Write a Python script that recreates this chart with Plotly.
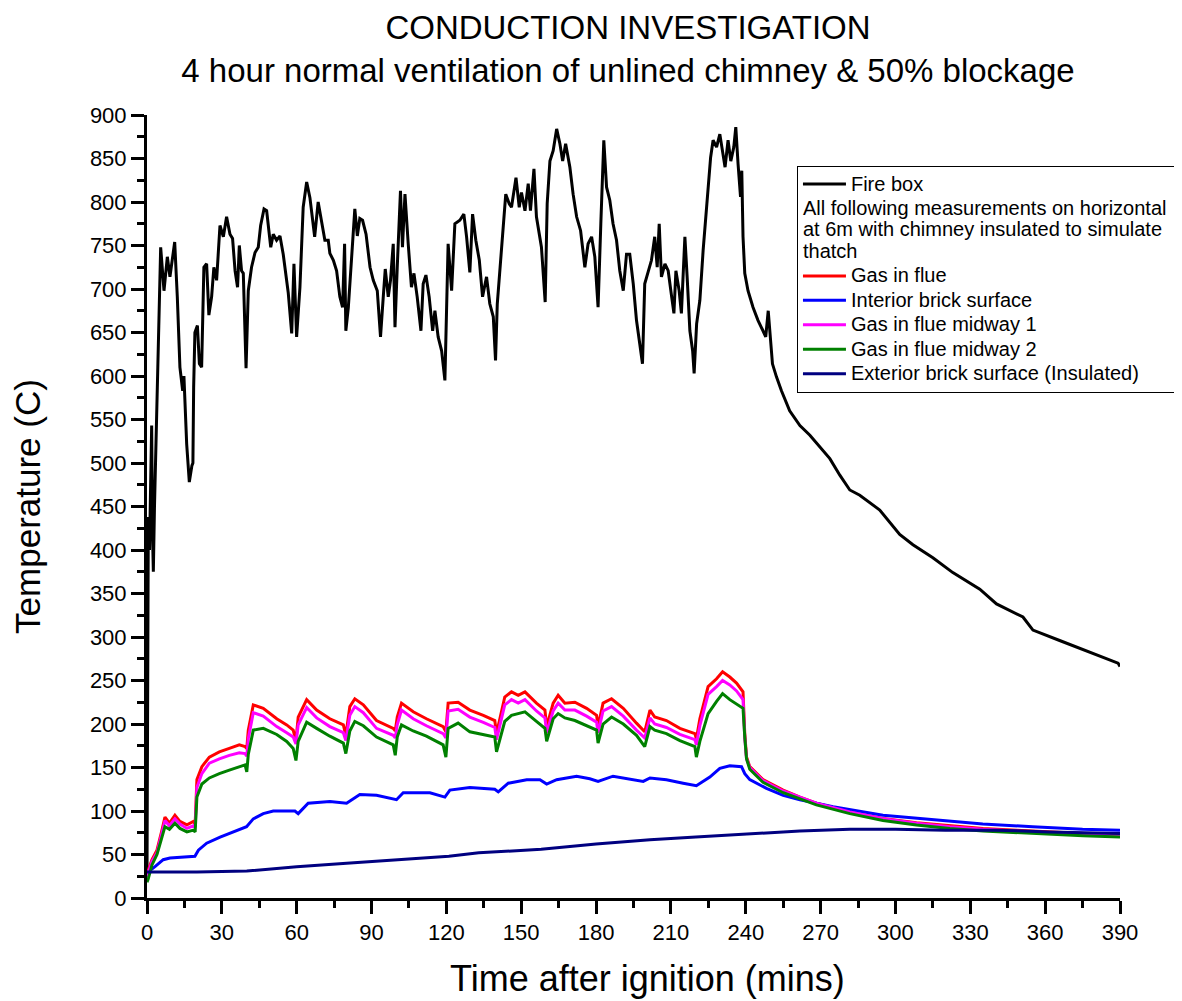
import plotly.graph_objects as go

# ---------------- data ----------------
FIRE_T = [0, 0.2, 0.53, 1.0, 1.87, 2.2, 2.54, 3.0, 3.6, 4.54,
          5.48, 6.81, 8.15, 9.2, 11.1, 12.15, 13.2, 14.3, 14.8, 15.9,
          16.96, 18.0, 18.4, 18.7, 19.2, 20.2, 21.0, 21.9, 22.8, 23.9,
          24.8, 25.9, 26.8, 27.9, 28.45, 29.25, 30.6, 31.9, 33.26, 34.3,
          35.3, 36.3, 37.0, 37.9, 38.6, 39.7, 40.6, 41.9, 43.3, 44.6,
          45.55, 46.9, 47.95, 48.6, 49.6, 50.6, 51.95, 53.3, 54.6, 56.6,
          58.0, 58.9, 59.97, 61.3, 62.6, 64.0, 65.3, 66.4, 67.2, 68.6,
          70.0, 71.3, 72.65, 73.3, 74.7, 76.0, 77.3, 78.4, 79.2, 79.7,
          80.7, 82.0, 83.3, 84.3, 85.3, 86.4, 87.8, 89.4, 90.7, 92.3,
          93.6, 94.7, 95.5, 96.7, 97.6, 98.7, 99.4, 100.3, 101.6, 102.4,
          103.4, 104.7, 106.0, 107.0, 108.3, 109.8, 110.7, 111.8, 113.1, 114.5,
          115.4, 116.7, 118.1, 119.4, 120.7, 122.1, 123.4, 125.4, 127.0, 128.1,
          129.4, 130.5, 131.8, 133.2, 134.5, 136.1, 137.4, 138.8, 139.7, 140.4,
          141.4, 142.5, 143.8, 145.2, 146.1, 147.9, 149.2, 150.1, 151.5, 152.8,
          153.7, 155.1, 156.1, 158.1, 159.6, 160.4, 161.5, 162.8, 164.2, 165.5,
          166.6, 167.8, 169.5, 170.8, 172.2, 173.8, 175.5, 176.8, 178.2, 179.5,
          180.8, 181.9, 183.1, 184.2, 185.5, 186.8, 188.2, 189.5, 190.9, 192.2,
          193.5, 194.9, 196.2, 197.5, 198.6, 199.5, 200.9, 202.2, 203.5, 204.5,
          205.3, 206.2, 207.6, 208.9, 210.3, 211.2, 212.0, 213.3, 214.2, 215.6,
          216.5, 217.6, 218.7, 219.3, 220.3, 221.6, 222.9, 224.0, 224.9, 225.9,
          226.9, 228.3, 229.6, 230.7, 231.7, 232.9, 234.0, 235.2, 236.0, 236.9,
          237.9, 238.4, 238.9, 239.6, 240.9, 242.9, 244.9, 246.9, 248.0, 249.0,
          249.6, 250.7, 252.3, 254.3, 257.6, 261.7, 265.7, 269.7, 273.7, 277.7,
          281.7, 285.7, 289.7, 293.7, 301.7, 307.0, 315.0, 323.0, 333.8, 340.5,
          351.1, 355.1, 365.8, 373.8, 380.5, 389.2, 390.0]
FIRE_BOX = [25, 370, 438, 400, 543, 420, 375, 450, 515, 637,
            748, 698, 737, 714, 754, 691, 610, 583, 600, 522,
            478, 497, 500, 587, 650, 658, 614, 610, 725, 729,
            670, 691, 725, 710, 741, 773, 760, 783, 763, 758,
            721, 702, 750, 721, 718, 609, 698, 725, 742, 748,
            773, 792, 790, 771, 748, 763, 756, 761, 740, 696,
            649, 729, 645, 702, 794, 823, 805, 779, 760, 800,
            775, 756, 756, 741, 733, 721, 691, 679, 752, 652,
            679, 737, 792, 761, 781, 779, 763, 725, 710, 698,
            645, 691, 723, 691, 710, 752, 656, 725, 813, 748,
            809, 752, 702, 718, 691, 652, 706, 716, 691, 652,
            675, 645, 629, 595, 752, 698, 775, 779, 786, 760,
            719, 786, 756, 733, 691, 714, 683, 668, 618, 683,
            721, 752, 809, 798, 794, 828, 794, 811, 790, 821,
            790, 838, 783, 748, 685, 798, 847, 859, 884, 867,
            847, 867, 840, 809, 783, 767, 725, 752, 760, 737,
            679, 775, 871, 817, 802, 775, 756, 721, 698, 740,
            740, 706, 664, 637, 614, 706, 721, 733, 760, 725,
            775, 714, 729, 721, 691, 672, 721, 698, 672, 760,
            714, 652, 629, 603, 660, 687, 744, 786, 821, 851,
            871, 863, 878, 859, 840, 871, 847, 863, 886, 844,
            806, 836, 760, 718, 698, 679, 664, 652, 645, 675,
            652, 614, 599, 583, 560, 543, 532, 518, 505, 486,
            469, 463, 454, 446, 418, 406, 391, 374, 355, 338,
            323, 308, 296, 287, 279, 270, 266]

FLUE_T = [0, 0.5, 2, 4, 6, 7.2, 9, 11.2, 13.2, 16,
          18.6, 19.3, 20, 22, 25, 29, 33, 37, 39.3, 40,
          40.6, 42.6, 46.6, 52, 56, 58.6, 59.7, 60.6, 64, 68,
          73.3, 78.7, 79.7, 81.3, 83.3, 86.7, 92, 98.7, 99.5, 100.3,
          102, 106.7, 112, 118.7, 119.8, 120.7, 124.7, 129.4, 134.8, 139.4,
          140.1, 143.4, 146.1, 148.8, 151.5, 156.1, 159.5, 160.2, 162.8, 164.8,
          167.5, 171.5, 176.2, 180.2, 180.8, 182.8, 186.2, 190.9, 196.2, 199.5,
          201.6, 203.5, 208.2, 213.6, 219.6, 220.2, 221.6, 224.9, 228.3, 230.7,
          233.6, 236.3, 238.9, 239.6, 240.3, 241.6, 246.9, 255, 261.7, 268.3,
          281.7, 295, 308.4, 321.8, 335.1, 348.5, 361.8, 375.2, 390]
GAS_IN_FLUE = [25, 32, 44, 55, 78, 93, 86, 95, 88, 84,
               88, 85, 136, 151, 162, 168, 172, 176, 174, 172,
               193, 222, 218, 206, 199, 193, 181, 208, 228, 216,
               206, 199, 187, 220, 229, 222, 204, 195, 192, 208,
               224, 214, 206, 197, 191, 224, 225, 216, 210, 204,
               189, 231, 237, 233, 237, 224, 216, 197, 224, 233,
               224, 225, 218, 210, 197, 224, 229, 218, 201, 191,
               216, 208, 204, 195, 189, 183, 206, 243, 252, 260,
               254, 247, 237, 189, 162, 151, 136, 124, 116, 109,
               99, 91.5, 86.5, 83, 80, 78, 76, 74, 72]
GAS_MIDWAY_1 = [25, 30, 42, 52, 74, 89, 83, 91, 85, 80,
                83, 81, 127, 143, 155, 160, 164, 167, 166, 163,
                183, 213, 209, 197, 190, 185, 177, 199, 219, 207,
                197, 190, 181, 210, 220, 213, 195, 187, 184, 199,
                216, 206, 198, 189, 184, 215, 217, 208, 202, 196,
                182, 222, 228, 224, 228, 215, 207, 190, 215, 224,
                216, 216, 209, 202, 190, 215, 220, 209, 193, 184,
                207, 200, 196, 188, 182, 176, 198, 234, 243, 250,
                245, 238, 228, 184, 160, 150, 135, 123, 116, 109,
                99, 91, 86, 82, 79, 77, 75, 73, 71]
GAS_MIDWAY_2 = [18, 22, 38, 50, 70, 82, 79, 86, 80, 76,
                78, 76, 116, 131, 138, 143, 147, 151, 153, 145,
                165, 193, 195, 188, 180, 172, 158, 180, 202, 195,
                186, 178, 166, 192, 203, 198, 185, 176, 164, 185,
                199, 192, 186, 176, 162, 195, 201, 191, 188, 185,
                168, 203, 210, 212, 214, 203, 195, 180, 206, 212,
                207, 204, 198, 193, 178, 200, 208, 200, 187, 174,
                197, 193, 189, 181, 174, 162, 180, 212, 226, 235,
                228, 223, 218, 185, 160, 148, 133, 121, 114, 107,
                97, 89, 84, 80, 77, 75, 73, 71.5, 70]

INT_T = [0, 0.5, 3.2, 6.5, 9.2, 14.5, 19.2, 20.6, 23.9, 29.3,
         34.6, 39.9, 42.6, 46.6, 50.6, 59.3, 60.6, 64.6, 73.3, 80,
         85.3, 92, 100, 102.7, 113.4, 119.4, 121.4, 129.4, 139.4, 140.8,
         144.8, 152.2, 157.5, 160.2, 164.2, 172.2, 177.5, 180.8, 186.8, 196.2,
         198.9, 201.6, 208.2, 214.9, 220.2, 225.6, 229.6, 233.6, 238.3, 239.6,
         241.6, 248.3, 255, 261.7, 275, 295, 315, 335, 355, 375,
         390]
INTERIOR_BRICK = [25, 30, 36, 44, 46, 47, 48, 55, 63, 70,
                  76, 82, 91, 97, 100, 100, 97, 109, 111, 109,
                  119, 118, 113, 121, 121, 116, 124, 127, 125, 122,
                  132, 136, 136, 131, 136, 140, 137, 134, 140, 136,
                  134, 138, 136, 132, 129, 139, 149, 152, 151, 143,
                  136, 126, 118, 113, 105, 95, 90, 85, 82, 79,
                  78]

EXT_T = [0, 20, 40, 60, 80, 100, 121, 133, 158, 180,
         201.6, 220, 241.6, 261.7, 281.7, 300, 320, 340, 361.8, 390]
EXTERIOR_BRICK = [30, 30, 31, 36, 40, 44, 48, 52, 56, 62,
                  67, 70, 74, 77, 79, 79, 78, 78, 76, 74]

X_TICKS = [0, 30, 60, 90, 120, 150, 180, 210, 240, 270, 300, 330, 360, 390]
Y_TICKS = [0, 50, 100, 150, 200, 250, 300, 350, 400, 450,
           500, 550, 600, 650, 700, 750, 800, 850, 900]

assert len(FIRE_T) == len(FIRE_BOX), (len(FIRE_T), len(FIRE_BOX))
assert len(FLUE_T) == len(GAS_IN_FLUE) == len(GAS_MIDWAY_1) == len(GAS_MIDWAY_2)
assert len(INT_T) == len(INTERIOR_BRICK)
assert len(EXT_T) == len(EXTERIOR_BRICK)

FONT = "Arial, 'Liberation Sans', sans-serif"


def big(s):
    return '<span style="font-size:20px">' + s + '</span>'


GROUP_NOTE = "<br>".join(big(s) for s in [
    "All following measurements on horizontal",
    "at 6m with chimney insulated to simulate",
    "thatch"])

fig = go.Figure()
fig.add_trace(go.Scatter(x=FIRE_T, y=FIRE_BOX, mode="lines", name=big("Fire box"),
                         line=dict(color="#000000", width=3), legendgroup="a"))
series = [
    (FLUE_T, GAS_IN_FLUE, "Gas in flue", "#FF0000"),
    (INT_T, INTERIOR_BRICK, "Interior brick surface", "#0000FF"),
    (FLUE_T, GAS_MIDWAY_1, "Gas in flue midway 1", "#FF00FF"),
    (FLUE_T, GAS_MIDWAY_2, "Gas in flue midway 2", "#008000"),
    (EXT_T, EXTERIOR_BRICK, "Exterior brick surface (Insulated)", "#000080"),
]
for i, (xs, ys, nm, col) in enumerate(series):
    kw = {}
    if i == 0:
        kw["legendgrouptitle"] = dict(text=GROUP_NOTE, font=dict(size=16.5, family=FONT, color="black"))
    fig.add_trace(go.Scatter(x=xs, y=ys, mode="lines", name=big(nm),
                             line=dict(color=col, width=3), legendgroup="b", **kw))

axis_common = dict(
    showline=True, linecolor="black", linewidth=3, mirror=False,
    showgrid=False, zeroline=False,
    ticks="outside", ticklen=13, tickwidth=3, tickcolor="black",
    tickfont=dict(size=22, family=FONT, color="black"),
)

# page body has an 8px margin, so the figure is 8px smaller than the window
W, H = 1174, 993

fig.update_layout(
    width=W, height=H,
    margin=dict(l=139, r=62, t=107, b=103, autoexpand=False),
    paper_bgcolor="white", plot_bgcolor="white",
    font=dict(family=FONT, color="black"),
    title=dict(
        text="CONDUCTION INVESTIGATION<br>4 hour normal ventilation of unlined chimney &amp; 50% blockage",
        font=dict(size=33, family=FONT, color="black"),
        x=620 / W, xref="container", xanchor="center",
        y=0.9688, yref="container", yanchor="top",
    ),
    xaxis=dict(
        range=[0, 390], tickvals=X_TICKS,
        minor=dict(dtick=15, ticklen=7, tickwidth=3, ticks="outside", tickcolor="black"),
        **axis_common,
    ),
    yaxis=dict(
        range=[0, 900], tickvals=Y_TICKS,
        minor=dict(dtick=25, ticklen=7, tickwidth=3, ticks="outside", tickcolor="black"),
        title=dict(text="Temperature (C)", font=dict(size=35, family=FONT, color="black"), standoff=44),
        **axis_common,
    ),
    legend=dict(
        x=0.668, y=0.935, xanchor="left", yanchor="top",
        bgcolor="white", bordercolor="black", borderwidth=1,
        font=dict(size=16.5, family=FONT, color="black"),
        tracegroupgap=0, traceorder="grouped", itemwidth=43,
    ),
    annotations=[dict(
        text="Time after ignition (mins)", xref="paper", yref="paper",
        x=0.514, y=-0.0754, xanchor="center", yanchor="top", showarrow=False,
        font=dict(size=36, family=FONT, color="black"), borderpad=0,
    )],
)

fig.write_html("out.html")
